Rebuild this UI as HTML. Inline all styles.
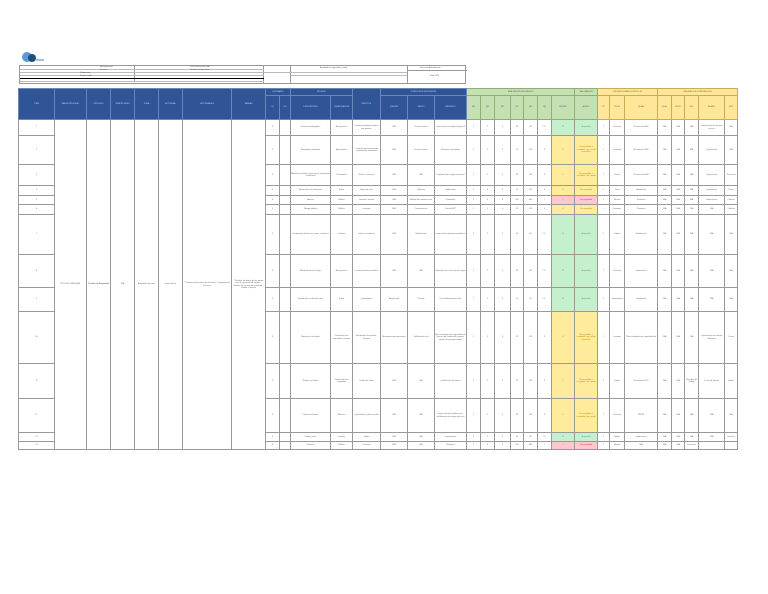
<!DOCTYPE html>
<html><head><meta charset="utf-8"><style>
*{margin:0;padding:0;box-sizing:border-box}
body{width:768px;height:594px;background:#fff;position:relative;overflow:hidden;font-family:"Liberation Sans",sans-serif}
table{position:absolute;left:18px;top:88px;border-collapse:collapse;table-layout:fixed;width:719px}
td{border:1px solid #999;font-size:2px;line-height:2.4px;color:#666;text-align:center;vertical-align:middle;overflow:hidden;padding:0}
.h td{background:#2f5597;color:#cfd8ea;border-color:#6d86b8}
td.g{background:#c5e0b3;color:#556;border-color:#8fb070}
td.gl{background:#c5e0b3;color:#556;border-color:#8fb070}
td.y{background:#ffe699;color:#665;border-color:#c9ad50}
td.yl{background:#ffe699;color:#665;border-color:#c9ad50}
td.G{background:#c6efce;color:#3a6}
td.Y{background:#ffeb9c;color:#b80}
td.R{background:#ffc7ce;color:#c33}
.info{position:absolute;left:19px;top:65px;width:447px;height:19px;border:1px solid #999;font-size:2px;color:#555}
.info div{position:absolute}
</style></head><body>
<svg style="position:absolute;left:21px;top:51px" width="24" height="13"><circle cx="6" cy="6" r="5" fill="#5b9bd5"/><circle cx="11" cy="7" r="4" fill="#1f4e79"/><rect x="15" y="8" width="8" height="2" fill="#9dc3e6"/></svg>
<div class="info">
<div style="left:0;top:0;width:115px;height:15px;border-right:1px solid #999"></div>
<div style="left:115px;top:0;width:129px;height:18px;border-right:1px solid #999"></div>
<div style="left:0;top:3px;width:244px;border-top:1px solid #bbb"></div>
<div style="left:0;top:6px;width:244px;border-top:1px solid #bbb"></div>
<div style="left:0;top:9px;width:244px;border-top:1px solid #bbb"></div>
<div style="left:0;top:12px;width:244px;border-top:1.5px solid #000"></div>
<div style="left:0;top:15px;width:244px;border-top:1px solid #bbb"></div>
<div style="left:244px;top:0;width:27px;height:18px;border-right:1px solid #999"></div>
<div style="left:244px;top:6px;width:143px;border-top:1px solid #bbb"></div>
<div style="left:271px;top:9px;width:116px;border-top:1px solid #bbb"></div>
<div style="left:387px;top:0;height:18px;border-left:1px solid #999"></div>
<div style="left:387px;top:4px;width:60px;border-top:1px solid #999"></div>
<div style="left:80px;top:0">Macroproceso</div><div style="left:170px;top:0">PROCESO MISIONAL</div>
<div style="left:80px;top:3px">Proceso</div><div style="left:170px;top:3px">Gestión de Seguridad</div>
<div style="left:60px;top:6px">Subproceso</div><div style="left:60px;top:9px">Responsable</div>
<div style="left:300px;top:1px">Actividad de seguridad y salud</div><div style="left:400px;top:1px">Fecha de Actualización</div>
<div style="left:410px;top:9px">Julio 2023</div>
</div>
<table>
<colgroup>
<col style="width:36px"><col style="width:32px"><col style="width:24px"><col style="width:24px"><col style="width:24px"><col style="width:24px"><col style="width:49px"><col style="width:34px"><col style="width:14px"><col style="width:11px"><col style="width:40px"><col style="width:22px"><col style="width:28px"><col style="width:27px"><col style="width:27px"><col style="width:32px"><col style="width:14px"><col style="width:14px"><col style="width:16px"><col style="width:13px"><col style="width:14px"><col style="width:14px"><col style="width:23px"><col style="width:23px"><col style="width:12px"><col style="width:15px"><col style="width:33px"><col style="width:14px"><col style="width:13px"><col style="width:14px"><col style="width:26px"><col style="width:13px">
</colgroup>
<tr class="h" style="height:7px">
<td rowspan="2">ITEM</td><td rowspan="2">MACROPROCESO</td><td rowspan="2">PROCESO</td><td rowspan="2">SUBPROCESO</td><td rowspan="2">ZONA</td><td rowspan="2">ACTIVIDAD</td><td rowspan="2">ACTIVIDADES</td><td rowspan="2">TAREAS</td>
<td colspan="2">RUTINARIO</td><td colspan="2">PELIGRO</td><td rowspan="2">EFECTOS</td><td colspan="3">CONTROLES EXISTENTES</td>
<td class="g" colspan="7">EVALUACIÓN DEL RIESGO</td><td class="g">VALORACIÓN</td><td class="y" colspan="3">CRITERIOS PARA CONTROLES</td><td class="y" colspan="5">MEDIDAS DE INTERVENCIÓN</td></tr>
<tr class="h" style="height:24px">
<td>SI</td><td>NO</td><td>DESCRIPCIÓN</td><td>CLASIFICACIÓN</td><td>FUENTE</td><td>MEDIO</td><td>INDIVIDUO</td>
<td class="gl">ND</td><td class="gl">NE</td><td class="gl">NP</td><td class="gl">NC</td><td class="gl">NR</td><td class="gl">NR</td><td class="gl">INTERP.</td><td class="gl">ACEPT.</td>
<td class="yl">Nº</td><td class="yl">PEOR</td><td class="yl">LEGAL</td><td class="yl">ELIM.</td><td class="yl">SUST.</td><td class="yl">ING.</td><td class="yl">ADMIN.</td><td class="yl">EPP</td></tr>
<tr style="height:16px"><td>1</td><td rowspan="14">PROCESO MISIONAL</td><td rowspan="14"><b>Gestión de Seguridad</b></td><td rowspan="14">N/A</td><td rowspan="14">Actividad Operativa</td><td rowspan="14">Varias Zonas</td><td rowspan="14">* Conducción de parte de vehículos * Inspección de las rutas</td><td rowspan="14">* Realizar los trazos de las partes para la ejecución de rondas * Revisar los cercos del perímetro * Validar el puesto</td><td>X</td><td></td><td>Posturas prolongadas</td><td>Biomecánico</td><td>Lesiones osteomusculares por postura</td><td>N/A</td><td>Pausas activas</td><td>Capacitación en higiene postural</td><td>2</td><td>2</td><td>4</td><td>10</td><td>40</td><td>III</td><td class="G">III</td><td class="G">Aceptable</td><td>1</td><td>Lesiones</td><td>Resolución 2400</td><td>N/A</td><td>N/A</td><td>N/A</td><td>Capacitación en pausas activas</td><td>N/A</td></tr>
<tr style="height:29px"><td>2</td><td>X</td><td></td><td>Movimiento repetitivo</td><td>Biomecánico</td><td>Lesiones por movimiento repetitivo de miembros</td><td>N/A</td><td>Pausas activas</td><td>Exámenes periódicos</td><td>2</td><td>3</td><td>6</td><td>25</td><td>150</td><td>II</td><td class="Y">II</td><td class="Y">No aceptable o aceptable con control específico</td><td>1</td><td>Lesiones</td><td>Resolución 2400</td><td>N/A</td><td>N/A</td><td>N/A</td><td>Capacitación</td><td>N/A</td></tr>
<tr style="height:21px"><td>3</td><td>X</td><td></td><td>Atención al público y manejo de situaciones conflictivas</td><td>Psicosocial</td><td>Estrés, cansancio</td><td>N/A</td><td>N/A</td><td>Programa de riesgo psicosocial</td><td>2</td><td>3</td><td>6</td><td>25</td><td>150</td><td>II</td><td class="Y">II</td><td class="Y">No aceptable o aceptable con control</td><td>1</td><td>Estrés</td><td>Resolución 2646</td><td>N/A</td><td>N/A</td><td>N/A</td><td>Capacitación</td><td>Protocolo</td></tr>
<tr style="height:10px"><td>4</td><td>X</td><td></td><td>Exposición a la intemperie</td><td>Físico</td><td>Golpe de calor</td><td>N/A</td><td>Uniforme</td><td>Hidratación</td><td>2</td><td>3</td><td>6</td><td>25</td><td>150</td><td>II</td><td class="Y">II</td><td class="Y">No aceptable</td><td>1</td><td>Calor</td><td>Hidratación</td><td>N/A</td><td>N/A</td><td>N/A</td><td>Capacitación</td><td>Gorra</td></tr>
<tr style="height:9px"><td>5</td><td>X</td><td></td><td>Atracos</td><td>Público</td><td>Lesiones, muerte</td><td>N/A</td><td>Medios de comunicación</td><td>Protocolos</td><td>2</td><td>3</td><td>6</td><td>100</td><td>600</td><td>I</td><td class="R">I</td><td class="R">No aceptable</td><td>1</td><td>Muerte</td><td>Protocolo</td><td>N/A</td><td>N/A</td><td>N/A</td><td>Capacitación</td><td>Chaleco</td></tr>
<tr style="height:10px"><td>6</td><td>X</td><td></td><td>Riesgo público</td><td>Público</td><td>Lesiones</td><td>N/A</td><td>Comunicación</td><td>Uso de EPP</td><td>2</td><td>3</td><td>6</td><td>25</td><td>150</td><td>II</td><td class="Y">II</td><td class="Y">No aceptable</td><td>1</td><td>Lesiones</td><td>Protocolo</td><td>N/A</td><td>N/A</td><td>N/A</td><td>N/A</td><td>Chaleco</td></tr>
<tr style="height:40px"><td>7</td><td>X</td><td></td><td>Condiciones del terreno, pisos, escaleras</td><td>Locativo</td><td>Caídas, torceduras</td><td>N/A</td><td>Señalización</td><td>Inspecciones locativas periódicas</td><td>2</td><td>2</td><td>4</td><td>10</td><td>40</td><td>III</td><td class="G">III</td><td class="G">Aceptable</td><td>1</td><td>Caídas</td><td>Señalización</td><td>N/A</td><td>N/A</td><td>N/A</td><td>N/A</td><td>N/A</td></tr>
<tr style="height:33px"><td>8</td><td>X</td><td></td><td>Manipulación de cargas</td><td>Biomecánico</td><td>Lesiones osteomusculares</td><td>N/A</td><td>N/A</td><td>Capacitación en manejo de cargas</td><td>2</td><td>2</td><td>4</td><td>10</td><td>40</td><td>III</td><td class="G">III</td><td class="G">Aceptable</td><td>1</td><td>Lesiones</td><td>Capacitación</td><td>N/A</td><td>N/A</td><td>N/A</td><td>N/A</td><td>N/A</td></tr>
<tr style="height:24px"><td>9</td><td>X</td><td></td><td>Exposición a radiación solar</td><td>Físico</td><td>Quemaduras</td><td>Bloqueador</td><td>Pausas</td><td>Uso de bloqueador solar</td><td>2</td><td>2</td><td>4</td><td>10</td><td>40</td><td>III</td><td class="G">III</td><td class="G">Aceptable</td><td>1</td><td>Quemaduras</td><td>Exposición</td><td>N/A</td><td>N/A</td><td>N/A</td><td>N/A</td><td>N/A</td></tr>
<tr style="height:52px"><td>10</td><td>X</td><td></td><td>Manejo de vehículos</td><td>Condiciones de seguridad - tránsito</td><td>Accidentes de tránsito, lesiones</td><td>Mantenimiento preventivo</td><td>Señalización vial</td><td>Plan estratégico de seguridad vial; licencia de conducción vigente; inspección preoperacional</td><td>2</td><td>3</td><td>6</td><td>25</td><td>150</td><td>II</td><td class="Y">II</td><td class="Y">No aceptable o aceptable con control específico</td><td>1</td><td>Lesiones</td><td>Plan estratégico de seguridad vial</td><td>N/A</td><td>N/A</td><td>N/A</td><td>Capacitación en manejo defensivo</td><td>Casco</td></tr>
<tr style="height:35px"><td>11</td><td>X</td><td></td><td>Trabajo en alturas</td><td>Condiciones de seguridad</td><td>Caídas de altura</td><td>N/A</td><td>N/A</td><td>Certificación de alturas</td><td>2</td><td>3</td><td>6</td><td>25</td><td>150</td><td>II</td><td class="Y">II</td><td class="Y">No aceptable o aceptable con control</td><td>1</td><td>Caídas</td><td>Resolución 4272</td><td>N/A</td><td>N/A</td><td>Permisos de trabajo</td><td>Curso de alturas</td><td>Arnés</td></tr>
<tr style="height:34px"><td>12</td><td>X</td><td></td><td>Contacto eléctrico</td><td>Eléctrico</td><td>Quemaduras, electrocución</td><td>N/A</td><td>N/A</td><td>Inspección de instalaciones; señalización de riesgo eléctrico</td><td>2</td><td>3</td><td>6</td><td>25</td><td>150</td><td>II</td><td class="Y">II</td><td class="Y">No aceptable o aceptable con control</td><td>1</td><td>Lesiones</td><td>RETIE</td><td>N/A</td><td>N/A</td><td>N/A</td><td>N/A</td><td>N/A</td></tr>
<tr style="height:9px"><td>13</td><td>X</td><td></td><td>Orden y aseo</td><td>Locativo</td><td>Golpes</td><td>N/A</td><td>N/A</td><td>Inspecciones</td><td>2</td><td>2</td><td>4</td><td>10</td><td>40</td><td>III</td><td class="G">III</td><td class="G">Aceptable</td><td>1</td><td>Golpes</td><td>Inspecciones</td><td>N/A</td><td>N/A</td><td>N/A</td><td>N/A</td><td>Guantes</td></tr>
<tr style="height:8px"><td>14</td><td>X</td><td></td><td>Violencia</td><td>Público</td><td>Lesiones</td><td>N/A</td><td>N/A</td><td>Protocolo</td><td>2</td><td>3</td><td>6</td><td>100</td><td>600</td><td>I</td><td class="R">I</td><td class="R">No aceptable</td><td>1</td><td>Muerte</td><td>N/A</td><td>N/A</td><td>N/A</td><td>Protocolo</td><td></td><td></td></tr>
</table>
</body></html>
